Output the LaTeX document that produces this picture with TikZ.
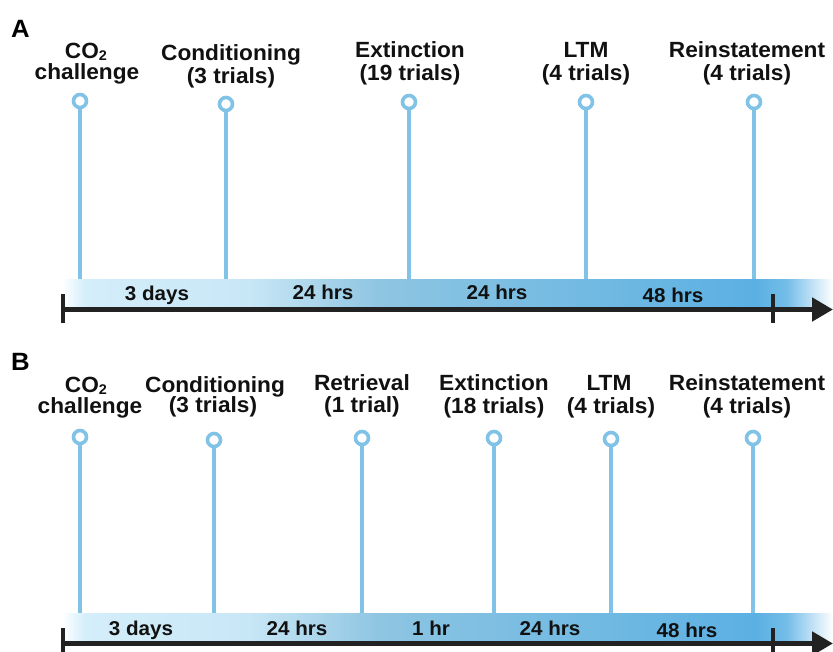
\documentclass[tikz,border=0pt]{standalone}
\usepackage{fontspec}
\setmainfont{Liberation Sans}[FakeStretch=1.03]
\usetikzlibrary{arrows.meta}
\definecolor{stemblue}{HTML}{80C3E6}
\definecolor{axisblack}{HTML}{222222}
\definecolor{txt}{HTML}{111111}
\definecolor{cA}{HTML}{D4EEFA}
\definecolor{cB}{HTML}{C8E7F6}
\definecolor{cC}{HTML}{B2DAEE}
\definecolor{cD}{HTML}{8FC5E2}
\definecolor{cE}{HTML}{84C1E2}
\definecolor{cF}{HTML}{70B9E2}
\definecolor{cG}{HTML}{5BB0E3}
\definecolor{cH}{HTML}{74BDE8}
\pgfdeclarehorizontalshading{barshade}{100bp}{color(0bp)=(white); color(25bp)=(white); color(26.5bp)=(cA); color(37bp)=(cB); color(40.5bp)=(cC); color(45.5bp)=(cD); color(50bp)=(cE); color(60bp)=(cF); color(70bp)=(cG); color(72bp)=(cH); color(75bp)=(white); color(100bp)=(white)}
\newcommand{\cotwo}{CO\raisebox{-2pt}[9pt][0pt]{\fontsize{14}{14}\selectfont 2}}
\tikzset{
  lab/.style={anchor=base, inner sep=0pt, text=txt, font=\fontsize{22}{24}\selectfont\bfseries},
  barlab/.style={anchor=base, inner sep=0pt, text=txt, font=\fontsize{20}{22}\selectfont\bfseries},
  panel/.style={anchor=base west, inner sep=0pt, text=black, font=\fontsize{25}{27}\selectfont\bfseries},
  pinc/.style={circle, draw=stemblue, line width=3.6pt, fill=white, minimum size=13pt, inner sep=0pt},
  stemline/.style={draw=stemblue, line width=3.6pt},
  axisline/.style={draw=axisblack, line width=5pt, -{Triangle[length=21pt,width=23pt]}},
  tickline/.style={draw=axisblack, line width=4.5pt}
}
\begin{document}
\begin{tikzpicture}[x=1pt,y=-1pt]
\useasboundingbox[fill=white] (0,0) rectangle (833,651);
% ---------------- Panel A ----------------
\node[panel] (pA) at (11,37) {A};
\fill[shading=barshade] (62,279) rectangle (833,307);
\coordinate (axAs) at (61,309.5);
\coordinate (axAe) at (833,309.5);
\draw[axisline] (axAs) -- (axAe);
\coordinate (tA1t) at (63,294); \coordinate (tA1b) at (63,323);
\coordinate (tA2t) at (773,294); \coordinate (tA2b) at (773,323);
\draw[tickline] (tA1t) -- (tA1b);
\draw[tickline] (tA2t) -- (tA2b);
% events
\node[pinc] (a1) at (80,101) {};
\node[pinc] (a2) at (226,104) {};
\node[pinc] (a3) at (409,102) {};
\node[pinc] (a4) at (586,102) {};
\node[pinc] (a5) at (754,102) {};
\coordinate (a1e) at (80,279);
\coordinate (a2e) at (226,279);
\coordinate (a3e) at (409,279);
\coordinate (a4e) at (586,279);
\coordinate (a5e) at (754,279);
\foreach \n in {a1,a2,a3,a4,a5} \draw[stemline] (\n.south) -- (\n e);
\node[lab] (a1t) at (86,58) {\cotwo};
\node[lab] (a1b) at (87,79) {challenge};
\node[lab] (a2t) at (231,60) {Conditioning};
\node[lab] (a2b) at (231,83) {(3 trials)};
\node[lab] (a3t) at (410,57) {Extinction};
\node[lab] (a3b) at (410,80) {(19 trials)};
\node[lab] (a4t) at (586,57) {LTM};
\node[lab] (a4b) at (586,80) {(4 trials)};
\node[lab] (a5t) at (747,57) {Reinstatement};
\node[lab] (a5b) at (747,80) {(4 trials)};
\node[barlab] (da1) at (157,300) {3 days};
\node[barlab] (da2) at (323,299) {24 hrs};
\node[barlab] (da3) at (497,299) {24 hrs};
\node[barlab] (da4) at (673,302) {48 hrs};
% ---------------- Panel B ----------------
\node[panel] (pB) at (11,370) {B};
\fill[shading=barshade] (62,613) rectangle (833,641);
\coordinate (axBs) at (61,643.5);
\coordinate (axBe) at (833,643.5);
\draw[axisline] (axBs) -- (axBe);
\coordinate (tB1t) at (63,628); \coordinate (tB1b) at (63,657);
\coordinate (tB2t) at (773,628); \coordinate (tB2b) at (773,657);
\draw[tickline] (tB1t) -- (tB1b);
\draw[tickline] (tB2t) -- (tB2b);
\node[pinc] (b1) at (80,437) {};
\node[pinc] (b2) at (214,440) {};
\node[pinc] (b3) at (362,438) {};
\node[pinc] (b4) at (494,438) {};
\node[pinc] (b5) at (611,439) {};
\node[pinc] (b6) at (753,438) {};
\coordinate (b1e) at (80,613);
\coordinate (b2e) at (214,613);
\coordinate (b3e) at (362,613);
\coordinate (b4e) at (494,613);
\coordinate (b5e) at (611,613);
\coordinate (b6e) at (753,613);
\foreach \n in {b1,b2,b3,b4,b5,b6} \draw[stemline] (\n.south) -- (\n e);
\node[lab] (b1t) at (86,392) {\cotwo};
\node[lab] (b1b) at (90,413) {challenge};
\node[lab] (b2t) at (215,392) {Conditioning};
\node[lab] (b2b) at (213,412) {(3 trials)};
\node[lab] (b3t) at (362,390) {Retrieval};
\node[lab] (b3b) at (362,412) {(1 trial)};
\node[lab] (b4t) at (494,390) {Extinction};
\node[lab] (b4b) at (494,413) {(18 trials)};
\node[lab] (b5t) at (609,390) {LTM};
\node[lab] (b5b) at (611,413) {(4 trials)};
\node[lab] (b6t) at (747,390) {Reinstatement};
\node[lab] (b6b) at (747,413) {(4 trials)};
\node[barlab] (db1) at (141,635) {3 days};
\node[barlab] (db2) at (297,635) {24 hrs};
\node[barlab] (db3) at (431,635) {1 hr};
\node[barlab] (db4) at (550,635) {24 hrs};
\node[barlab] (db5) at (687,637) {48 hrs};
\end{tikzpicture}
\end{document}
